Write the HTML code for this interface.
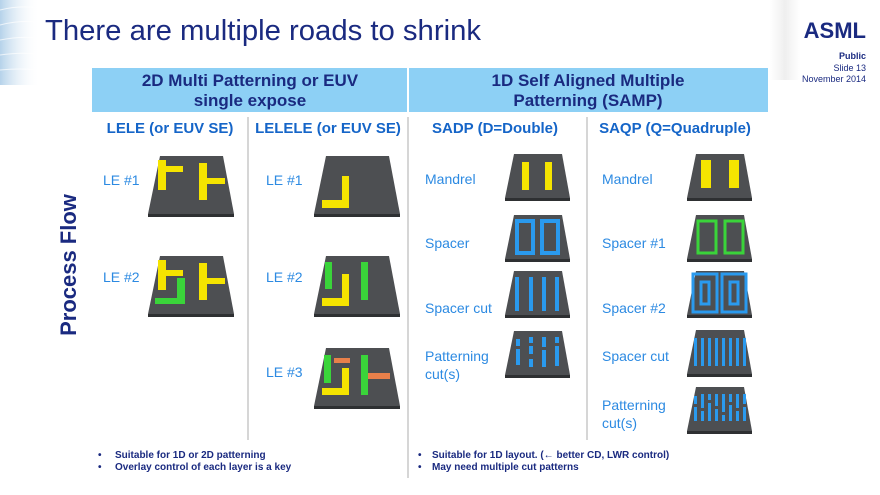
<!DOCTYPE html>
<html><head><meta charset="utf-8"><style>
html,body{margin:0;padding:0;background:#fff;}
svg{display:block;font-family:"Liberation Sans",Arial,sans-serif;}
.lb{fill:#2c8ae2;font-size:14px;}
.sh{fill:#1565c8;font-size:15px;font-weight:bold;}
.hd{fill:#1a2a80;font-size:17px;font-weight:bold;}
.bl{fill:#1a2a80;font-size:10px;font-weight:bold;}
</style></head><body>
<svg width="880" height="495" viewBox="0 0 880 495">
<defs>
<linearGradient id="sw" x1="0" y1="0" x2="1" y2="0">
<stop offset="0" stop-color="#b5d2ea"/><stop offset="1" stop-color="#fff" stop-opacity="0"/></linearGradient>
<linearGradient id="rg" x1="0" y1="0" x2="1" y2="0">
<stop offset="0" stop-color="#fff"/><stop offset="0.5" stop-color="#e4e4e4"/><stop offset="1" stop-color="#fff"/></linearGradient>
<g id="cL"><polygon points="12,0 75,0 86,58 0,58" fill="#4d4f52"/><rect x="0" y="58" width="86" height="3" fill="#2e3032"/></g>
<g id="cS"><polygon points="9,0 57,0 65,44 0,44" fill="#4d4f52"/><rect x="0" y="44" width="65" height="3" fill="#2e3032"/></g>
</defs>
<rect x="0" y="0" width="40" height="85" fill="url(#sw)"/>
<g stroke="#fff" stroke-width="1" opacity="0.7" fill="none">
<path d="M0,10 Q20,5 38,8"/><path d="M0,25 Q20,20 38,22"/><path d="M0,40 Q20,36 38,38"/><path d="M0,55 Q20,52 38,54"/><path d="M0,70 Q20,68 38,70"/></g>
<rect x="770" y="0" width="30" height="80" fill="url(#rg)" opacity="0.6"/>
<text x="45" y="40" fill="#1a2a80" font-size="29" textLength="436" lengthAdjust="spacingAndGlyphs">There are multiple roads to shrink</text>
<text x="866" y="38" fill="#1a2a80" font-size="22" font-weight="bold" text-anchor="end">ASML</text>
<text x="866" y="59" fill="#1a2a80" font-size="9" font-weight="bold" text-anchor="end">Public</text>
<text x="866" y="71" fill="#1a2a80" font-size="9" text-anchor="end">Slide 13</text>
<text x="866" y="82" fill="#1a2a80" font-size="9" text-anchor="end">November 2014</text>
<rect x="92" y="68" width="676" height="44" fill="#8dd0f5"/>
<line x1="408" y1="68" x2="408" y2="112" stroke="#fff" stroke-width="2"/>
<text class="hd" x="250" y="86" text-anchor="middle">2D Multi Patterning or EUV</text>
<text class="hd" x="250" y="106" text-anchor="middle">single expose</text>
<text class="hd" x="588" y="86" text-anchor="middle">1D Self Aligned Multiple</text>
<text class="hd" x="588" y="106" text-anchor="middle">Patterning (SAMP)</text>
<text class="sh" x="170" y="133" text-anchor="middle">LELE (or EUV SE)</text>
<text class="sh" x="328" y="133" text-anchor="middle">LELELE (or EUV SE)</text>
<text class="sh" x="495" y="133" text-anchor="middle">SADP (D=Double)</text>
<text class="sh" x="675" y="133" text-anchor="middle">SAQP (Q=Quadruple)</text>
<g stroke="#c8c8c8" stroke-width="1.5">
<line x1="248" y1="117" x2="248" y2="440"/><line x1="408" y1="117" x2="408" y2="478"/><line x1="587" y1="117" x2="587" y2="440"/></g>
<text x="76" y="265" fill="#1a2a80" font-size="22" font-weight="bold" text-anchor="middle" transform="rotate(-90 76 265)">Process Flow</text>
<text class="lb" x="103" y="185">LE #1</text><text class="lb" x="103" y="282">LE #2</text>
<text class="lb" x="266" y="185">LE #1</text><text class="lb" x="266" y="282">LE #2</text><text class="lb" x="266" y="377">LE #3</text>
<text class="lb" x="425" y="184">Mandrel</text><text class="lb" x="425" y="248">Spacer</text><text class="lb" x="425" y="313">Spacer cut</text>
<text class="lb" x="425" y="361">Patterning</text><text class="lb" x="425" y="379">cut(s)</text>
<text class="lb" x="602" y="184">Mandrel</text><text class="lb" x="602" y="248">Spacer #1</text><text class="lb" x="602" y="313">Spacer #2</text>
<text class="lb" x="602" y="361">Spacer cut</text><text class="lb" x="602" y="410">Patterning</text><text class="lb" x="602" y="428">cut(s)</text>
<g transform="translate(148,156)"><use href="#cL"/>
<g fill="#f5e400"><rect x="10" y="4" width="8" height="30"/><rect x="18" y="10" width="17" height="6"/><rect x="51" y="7" width="8" height="37"/><rect x="59" y="22" width="18" height="6"/></g></g>
<g transform="translate(148,256)"><use href="#cL"/>
<g fill="#f5e400"><rect x="10" y="4" width="8" height="30"/><rect x="18" y="14" width="17" height="6"/><rect x="51" y="7" width="8" height="37"/><rect x="59" y="22" width="18" height="6"/></g>
<g fill="#3ad43a"><rect x="29" y="22" width="8" height="26"/><rect x="7" y="42" width="30" height="6"/></g></g>
<g transform="translate(314,156)"><use href="#cL"/>
<g fill="#f5e400"><rect x="28" y="20" width="7" height="32"/><rect x="8" y="44" width="27" height="8"/></g></g>
<g transform="translate(314,256)"><use href="#cL"/>
<g fill="#f5e400"><rect x="28" y="18" width="7" height="32"/><rect x="8" y="42" width="27" height="8"/></g>
<g fill="#3ad43a"><rect x="11" y="6" width="7" height="27"/><rect x="47" y="6" width="7" height="38"/></g></g>
<g transform="translate(314,348)"><use href="#cL"/>
<g fill="#3ad43a"><rect x="10" y="7" width="7" height="28"/><rect x="47" y="7" width="7" height="40"/></g>
<g fill="#e8804a"><rect x="20" y="10" width="16" height="5"/><rect x="54" y="25" width="22" height="6"/></g>
<g fill="#f5e400"><rect x="28" y="20" width="7" height="26"/><rect x="8" y="40" width="27" height="7"/></g></g>
<g transform="translate(505,154)"><use href="#cS"/>
<g fill="#f5e400"><rect x="17" y="8" width="7" height="28"/><rect x="40" y="8" width="7" height="28"/></g></g>
<g transform="translate(505,215)"><use href="#cS"/>
<g fill="none" stroke="#2a9aee" stroke-width="4"><rect x="12" y="6" width="16" height="32"/><rect x="37" y="6" width="16" height="32"/></g></g>
<g transform="translate(505,271)"><use href="#cS"/>
<g fill="#2a9aee"><rect x="10" y="6" width="4" height="34"/><rect x="24" y="6" width="4" height="34"/><rect x="37" y="6" width="4" height="34"/><rect x="50" y="6" width="4" height="34"/></g></g>
<g transform="translate(505,331)"><use href="#cS"/>
<g fill="#2a9aee"><rect x="11" y="8" width="4" height="7"/><rect x="11" y="18" width="4" height="16"/><rect x="24" y="6" width="4" height="6"/><rect x="24" y="15" width="4" height="8"/><rect x="24" y="28" width="4" height="8"/><rect x="37" y="6" width="4" height="10"/><rect x="37" y="19" width="4" height="17"/><rect x="50" y="6" width="4" height="6"/><rect x="50" y="15" width="4" height="20"/></g></g>
<g transform="translate(687,154)"><use href="#cS"/>
<g fill="#f5e400"><rect x="14" y="6" width="10" height="28"/><rect x="42" y="6" width="10" height="28"/></g></g>
<g transform="translate(687,215)"><use href="#cS"/>
<g fill="none" stroke="#3ad43a" stroke-width="3"><rect x="11" y="6" width="18" height="32"/><rect x="38" y="6" width="18" height="32"/></g></g>
<g transform="translate(687,271)"><use href="#cS"/>
<g fill="none" stroke="#2a9aee" stroke-width="3"><rect x="6" y="3" width="24" height="38"/><rect x="35" y="3" width="24" height="38"/><rect x="14" y="11" width="8" height="22"/><rect x="43" y="11" width="8" height="22"/></g></g>
<g transform="translate(687,330)"><use href="#cS"/>
<g fill="#2a9aee"><rect x="7" y="8" width="3" height="28"/><rect x="14" y="8" width="3" height="28"/><rect x="21" y="8" width="3" height="28"/><rect x="28" y="8" width="3" height="28"/><rect x="35" y="8" width="3" height="28"/><rect x="42" y="8" width="3" height="28"/><rect x="49" y="8" width="3" height="28"/><rect x="56" y="8" width="3" height="28"/></g></g>
<g transform="translate(687,387)"><use href="#cS"/>
<g fill="#2a9aee"><rect x="7" y="9" width="3" height="8"/><rect x="7" y="20" width="3" height="14"/><rect x="14" y="7" width="3" height="14"/><rect x="14" y="24" width="3" height="10"/><rect x="21" y="7" width="3" height="6"/><rect x="21" y="16" width="3" height="18"/><rect x="28" y="7" width="3" height="12"/><rect x="28" y="22" width="3" height="12"/><rect x="35" y="7" width="3" height="18"/><rect x="35" y="28" width="3" height="6"/><rect x="42" y="7" width="3" height="8"/><rect x="42" y="18" width="3" height="16"/><rect x="49" y="7" width="3" height="14"/><rect x="49" y="24" width="3" height="10"/><rect x="56" y="7" width="3" height="10"/><rect x="56" y="20" width="3" height="14"/></g></g>
<text class="bl" x="98" y="458">•</text><text class="bl" x="115" y="458">Suitable for 1D or 2D patterning</text>
<text class="bl" x="98" y="470">•</text><text class="bl" x="115" y="470">Overlay control of each layer is a key</text>
<text class="bl" x="418" y="458">•</text><text class="bl" x="432" y="458">Suitable for 1D layout. (← better CD, LWR control)</text>
<text class="bl" x="418" y="470">•</text><text class="bl" x="432" y="470">May need multiple cut patterns</text>
</svg>
</body></html>
